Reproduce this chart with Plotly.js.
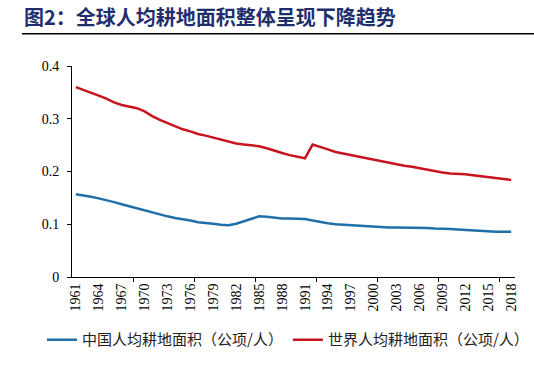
<!DOCTYPE html>
<html>
<head>
<meta charset="utf-8">
<script src="https://cdn.plot.ly/plotly-3.0.1.min.js"></script>
<style>html,body{margin:0;padding:0;background:#fff;}#chart{width:534px;height:369px;}</style>
</head>
<body>
<div id="chart"></div>
<script>
const years = [];
for (let y = 1961; y <= 2018; y++) years.push(y);

const chinaArable = [
  0.157,0.155,0.152,0.149,0.146,0.142,0.138,0.134,0.130,0.127,
  0.123,0.119,0.115,0.112,0.110,0.107,0.104,0.103,0.101,0.099,
  0.098,0.101,0.106,0.111,0.115,0.114,0.112,0.111,0.111,0.111,
  0.110,0.107,0.104,0.102,0.100,0.099,0.098,0.097,0.096,0.095,
  0.095,0.094,0.094,0.094,0.093,0.093,0.093,0.092,0.092,0.091,
  0.090,0.089,0.088,0.087,0.087,0.086,0.086,0.086
];

const worldArable = [
  0.360,0.355,0.350,0.344,0.338,0.331,0.326,0.323,0.320,0.314,
  0.305,0.298,0.292,0.286,0.280,0.276,0.271,0.268,0.264,0.260,
  0.256,0.253,0.251,0.250,0.248,0.244,0.239,0.235,0.231,0.228,
  0.225,0.251,0.247,0.242,0.237,0.234,0.231,0.228,0.225,0.222,
  0.219,0.216,0.213,0.211,0.209,0.206,0.203,0.200,0.198,0.196,
  0.196,0.195,0.193,0.191,0.189,0.187,0.186,0.184
];

const seriesNames = ['中国人均耕地面积（公项/人）', '世界人均耕地面积（公项/人）'];
const titleText = '图2：全球人均耕地面积整体呈现下降趋势';

const labelYears = years.filter((y, i) => i % 3 === 0);
const labelText = labelYears.map(String);
const tickBoundaries = years.filter((y, i) => i > 0 && i % 8 === 0).map(y => y - 0.5);

const traces = [
  {x: years, y: chinaArable, name: seriesNames[0], type: 'scatter', mode: 'lines',
   line: {color: '#1F6FA8', width: 2.5}},
  {x: years, y: worldArable, name: seriesNames[1], type: 'scatter', mode: 'lines',
   line: {color: '#C8141E', width: 2.5}}
];

const layout = {
  width: 534, height: 369,
  margin: {l: 72, r: 19, t: 66, b: 90},
  paper_bgcolor: '#fff', plot_bgcolor: '#fff',
  showlegend: true,
  font: {family: '"Liberation Serif", serif', color: '#000', size: 14},
  xaxis: {
    range: [years[0] - 0.5, years[years.length - 1] + 0.5],
    tickmode: 'array', tickvals: labelYears, ticktext: labelText,
    tickangle: -90, ticks: '', showgrid: false, zeroline: false,
    showline: true, linecolor: '#000', linewidth: 1,
    tickfont: {family: '"Liberation Serif", serif', size: 14, color: '#000'},
    minor: {tickmode: 'array', tickvals: tickBoundaries, ticks: 'outside', ticklen: 4, tickcolor: '#000', tickwidth: 1, showgrid: false}
  },
  yaxis: {
    range: [0, 0.4], tickmode: 'array', tickvals: [0, 0.1, 0.2, 0.3, 0.4],
    ticktext: ['0', '0.1', '0.2', '0.3', '0.4'],
    ticks: 'outside', ticklen: 4, tickcolor: '#000', ticklabelstandoff: 5,
    showgrid: false, zeroline: false, showline: true, linecolor: '#000', linewidth: 1,
    tickfont: {family: '"Liberation Serif", serif', size: 14, color: '#000'}
  },
  legend: {
    orientation: 'h', x: -0.026, xanchor: 'left', y: -0.298, yanchor: 'middle',
    font: {family: '"Noto Sans CJK SC", sans-serif', size: 15, color: '#222'},
    itemgap: 0, bgcolor: 'rgba(0,0,0,0)'
  },
  title: {
    text: '<b>' + titleText + '</b>',
    x: 24 / 534, xanchor: 'left', xref: 'container',
    y: 1 - 18 / 369, yanchor: 'middle', yref: 'container',
    font: {family: '"Noto Sans CJK SC", sans-serif', size: 20, color: '#1F2F6E'}
  },
  shapes: [
    {type: 'line', xref: 'paper', yref: 'paper', x0: -0.113, x1: 1.05, y0: 1.153, y1: 1.153,
     line: {color: '#000', width: 1.5}}
  ]
};

Plotly.newPlot('chart', traces, layout, {displayModeBar: false, staticPlot: true});
</script>
</body>
</html>
